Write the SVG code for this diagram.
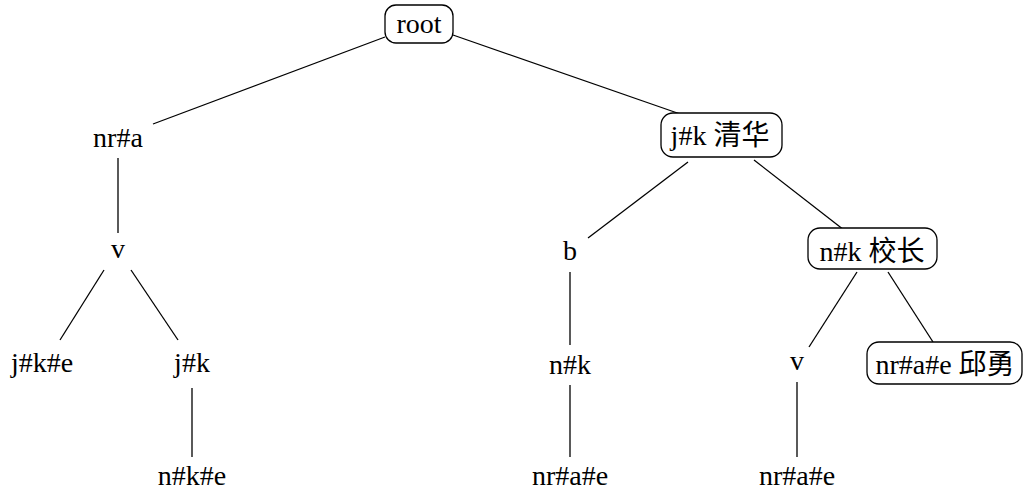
<svg xmlns="http://www.w3.org/2000/svg" width="1023" height="495" viewBox="0 0 1023 495">
<style>
text{font-family:"Liberation Serif","Noto Sans CJK SC",serif;font-size:28px;fill:#000;text-anchor:middle}
.box{fill:#fff;stroke:#000;stroke-width:1.3}
.e line{stroke:#000;stroke-width:1.3}
</style>
<rect width="1023" height="495" fill="#fff"/>
<g class="e" id="edges">
<line x1="385" y1="37" x2="153" y2="124"/>
<line x1="453" y1="35" x2="686" y2="116"/>
<line x1="118" y1="158" x2="118" y2="233"/>
<line x1="104" y1="270" x2="60" y2="340"/>
<line x1="131" y1="270" x2="178" y2="340"/>
<line x1="192" y1="388" x2="192" y2="457"/>
<line x1="688" y1="162" x2="588" y2="238"/>
<line x1="754" y1="160" x2="844" y2="230"/>
<line x1="570" y1="272" x2="570" y2="345"/>
<line x1="857" y1="272" x2="809" y2="347"/>
<line x1="888" y1="272" x2="933" y2="342"/>
<line x1="570" y1="385" x2="570" y2="457"/>
<line x1="797" y1="382" x2="797" y2="457"/>
</g>
<g id="root"><rect class="box" x="385" y="5" width="68" height="38" rx="11"/><text x="419" y="33">root</text></g>
<g id="nra"><text x="118" y="147">nr#a</text></g>
<g id="v1"><text x="118" y="258">v</text></g>
<g id="jke"><text x="42" y="372">j#k#e</text></g>
<g id="jk1"><text x="192" y="372">j#k</text></g>
<g id="nke"><text x="192" y="485">n#k#e</text></g>
<g id="qinghua"><rect class="box" x="661" y="113" width="121" height="44" rx="12"/><text x="720" y="145">j#k 清华</text></g>
<g id="b"><text x="570" y="260">b</text></g>
<g id="xiaozhang"><rect class="box" x="808" y="228" width="129" height="41" rx="12"/><text x="872" y="261">n#k 校长</text></g>
<g id="nk"><text x="570" y="374">n#k</text></g>
<g id="v2"><text x="797" y="370">v</text></g>
<g id="qiuyong"><rect class="box" x="867" y="342" width="155" height="42" rx="12"/><text x="945" y="374">nr#a#e 邱勇</text></g>
<g id="nrae1"><text x="570" y="485">nr#a#e</text></g>
<g id="nrae2"><text x="797" y="485">nr#a#e</text></g>
</svg>
